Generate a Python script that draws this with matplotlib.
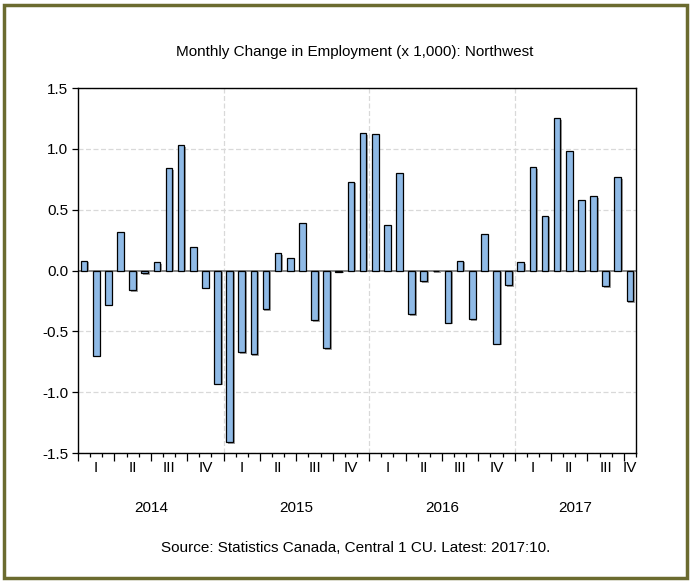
import matplotlib
matplotlib.use('Agg')
import matplotlib.pyplot as plt
import matplotlib.patheffects as pe
import matplotlib.transforms as mtransforms
from matplotlib.patches import Rectangle
import numpy as np

plt.rcParams['font.family'] = ['Liberation Sans', 'DejaVu Sans']

# monthly change in employment (x 1,000), Jan 2014 - Oct 2017
changes = [0.08, -0.70, -0.28, 0.32, -0.16, -0.02, 0.07, 0.84, 1.03, 0.19, -0.14, -0.93,
           -1.41, -0.67, -0.69, -0.32, 0.14, 0.10, 0.39, -0.41, -0.64, -0.01, 0.73, 1.13,
           1.12, 0.37, 0.80, -0.36, -0.09, -0.005, -0.43, 0.08, -0.40, 0.30, -0.60, -0.12,
           0.07, 0.85, 0.45, 1.25, 0.98, 0.58, 0.61, -0.13, 0.77, -0.25]
years = ['2014', '2015', '2016', '2017']
quarters = ['I', 'II', 'III', 'IV']
yticks = [-1.5, -1.0, -0.5, 0.0, 0.5, 1.0, 1.5]

n = len(changes)
x = np.arange(n)

fig = plt.figure(figsize=(6.91, 5.81), dpi=100, facecolor='white')
ax = fig.add_axes([0.1129, 0.2203, 0.8075, 0.6282])

# frame round the whole picture
fig.patches.append(Rectangle((0.006, 0.005), 0.988, 0.986, transform=fig.transFigure,
                             fill=False, edgecolor='#6b6b2f', linewidth=2.5))

ax.set_xlim(-0.5, n - 0.5)
ax.set_ylim(-1.5, 1.5)

for yv in yticks:
    if yv == 0:
        continue
    ax.axhline(yv, color='#d9d9d9', linestyle=(0, (4, 2)), linewidth=0.9, zorder=0)
for i in range(1, len(years)):
    ax.axvline(12 * i - 0.5, color='#d9d9d9', linestyle=(0, (4, 2)), linewidth=0.9, zorder=0)
ax.axhline(0, color='#707070', linewidth=1.2, zorder=1)

ax.bar(x, changes, width=0.55, color='#8fbae6', edgecolor='black', linewidth=0.9, zorder=2,
       path_effects=[pe.SimplePatchShadow(offset=(1.2, -1.2), shadow_rgbFace='#8a8a8a', alpha=0.8),
                     pe.Normal()])

ax.set_yticks(yticks)
ax.set_yticklabels(['%.1f' % v for v in yticks])
ax.tick_params(axis='y', direction='out', length=4, width=0.9, labelsize=11, pad=3)

# month ticks, longer at quarters
ax.set_xticks(np.arange(-0.5, n, 1), minor=True)
ax.set_xticks(np.arange(-0.5, n, 3))
ax.set_xticklabels([])
ax.tick_params(axis='x', which='minor', direction='out', length=3, width=0.9)
ax.tick_params(axis='x', which='major', direction='out', length=6, width=0.9)

for sp in ax.spines.values():
    sp.set_linewidth(1.0)

trans = mtransforms.blended_transform_factory(ax.transData, fig.transFigure)
for q in range(0, n, 3):
    qx = (q + min(q + 2, n - 1)) / 2
    ax.text(qx, 0.1945, quarters[(q // 3) % 4], transform=trans, ha='center', va='center',
            fontsize=11)
for i, yr in enumerate(years):
    lo = 12 * i
    hi = min(12 * i + 11, n - 1)
    ax.text((lo + hi) / 2, 0.1256, yr, transform=trans, ha='center', va='center', fontsize=11)

fig.text(0.513, 0.9105, 'Monthly Change in Employment (x 1,000): Northwest',
         ha='center', va='center', fontsize=11)
fig.text(0.515, 0.0568, 'Source: Statistics Canada, Central 1 CU. Latest: 2017:10.',
         ha='center', va='center', fontsize=11)

plt.savefig('out.png', dpi=100, facecolor='white')
